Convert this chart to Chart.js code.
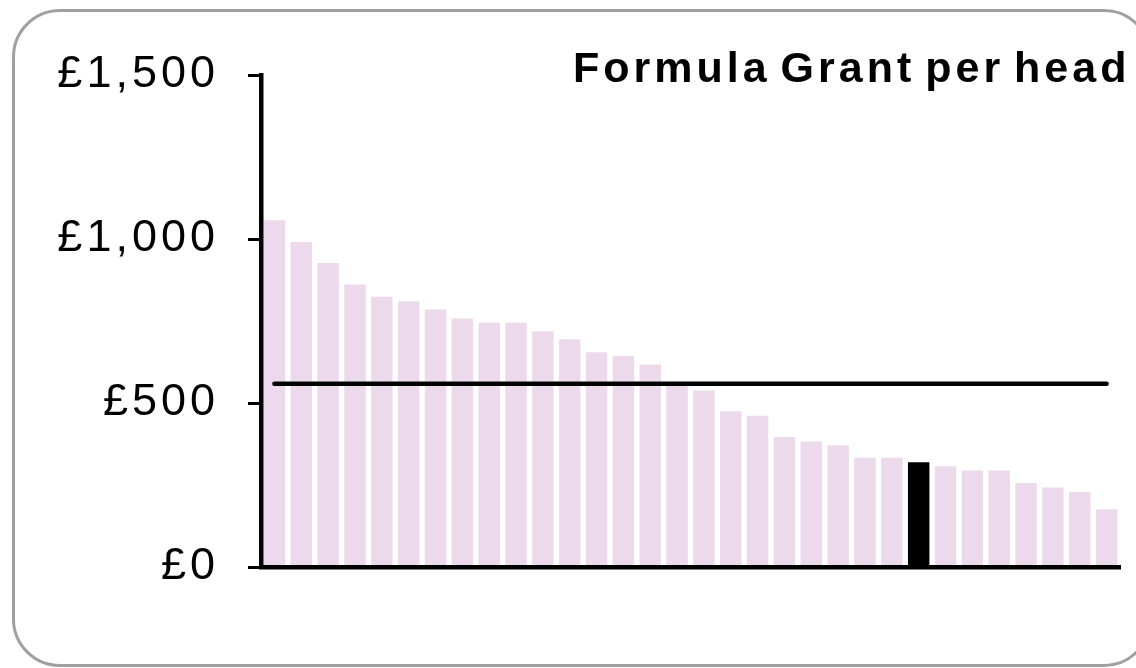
<!DOCTYPE html>
<html>
<head>
<meta charset="utf-8">
<script src="https://cdn.jsdelivr.net/npm/chart.js@4.4.0/dist/chart.umd.min.js"></script>
<style>
  html, body { margin: 0; padding: 0; background: #fff; overflow: hidden; }
  #wrap { position: relative; width: 1136px; height: 668px; }
  #frame { position: absolute; left: 12px; top: 9px; width: 1140px; height: 658px; box-sizing: border-box;
           border: 3px solid #a0a0a0; border-radius: 48px; }
  #title { position: absolute; left: 573px; top: 46px; font: bold 43px "Liberation Sans", Arial, sans-serif;
           line-height: 43px; letter-spacing: 4px; word-spacing: -6px; color: #000; white-space: nowrap; }
  canvas { position: absolute; left: 0; top: 0; }
</style>
</head>
<body>
<div id="wrap">
  <div id="frame"></div>
  <canvas id="grantChart" width="1136" height="668"></canvas>
  <div id="title">Formula Grant per head</div>
</div>
<script>
// ── Formula Grant per head, by authority ──
const authorities = ['A01','A02','A03','A04','A05','A06','A07','A08','A09','A10','A11','A12','A13','A14','A15','A16',
                     'A17','A18','A19','A20','A21','A22','A23','A24','A25','A26','A27','A28','A29','A30','A31','A32'];
const grantPerHead = [1057, 991, 927, 861, 824, 810, 785, 758, 745, 745, 719, 694, 655, 643, 617, 552,
                      538, 475, 461, 396, 383, 371, 333, 333, 319, 307, 294, 294, 256, 242, 229, 176];
const highlightIndex = 24;          // the authority shown in black
const averageGrant = 559;           // average line
const yTicks = [0, 500, 1000, 1500];

const barColours = grantPerHead.map((v, i) => i === highlightIndex ? '#000000' : '#ecdaec');

// wider tracking on canvas text, like the original
const spacing = { id: 'spacing', beforeDraw(c) { c.ctx.letterSpacing = '4px'; } };

new Chart(document.getElementById('grantChart').getContext('2d'), {
  type: 'bar',
  data: {
    labels: authorities,
    datasets: [
      { type: 'line', label: 'Average', data: [{ x: authorities[0], y: averageGrant }, { x: authorities[authorities.length - 1], y: averageGrant }],
        borderColor: '#000', borderWidth: 4.5, borderCapStyle: 'round', pointRadius: 0, fill: false, order: 0 },
      { label: 'Formula Grant per head', data: grantPerHead, backgroundColor: barColours, borderWidth: 0,
        barPercentage: 0.8, categoryPercentage: 1, order: 1 }
    ]
  },
  options: {
    responsive: false, animation: false,
    layout: { padding: { left: 0, top: 75, right: 16, bottom: 101 } },
    plugins: { legend: { display: false }, tooltip: { enabled: false } },
    scales: {
      x: { grid: { display: false, drawTicks: false }, ticks: { display: false },
           border: { display: true, color: '#000', width: 4.5, z: 2 },
           afterFit: s => { s.height = 0; } },
      y: { min: 0, max: 1500,
           afterBuildTicks: s => { s.ticks = yTicks.map(v => ({ value: v })); },
           afterFit: s => { s.width = 261; },
           grid: { z: 1, drawOnChartArea: false, drawTicks: true, tickLength: 13, tickWidth: 3, tickColor: '#000', color: '#000' },
           border: { display: true, color: '#000', width: 4.5, z: 1 },
           ticks: { padding: 29, color: '#000', font: { family: '"Liberation Sans", Arial, sans-serif', size: 45 },
                    callback: v => '£' + v.toLocaleString('en-GB') } }
    }
  },
  plugins: [spacing]
});
</script>
</body>
</html>
